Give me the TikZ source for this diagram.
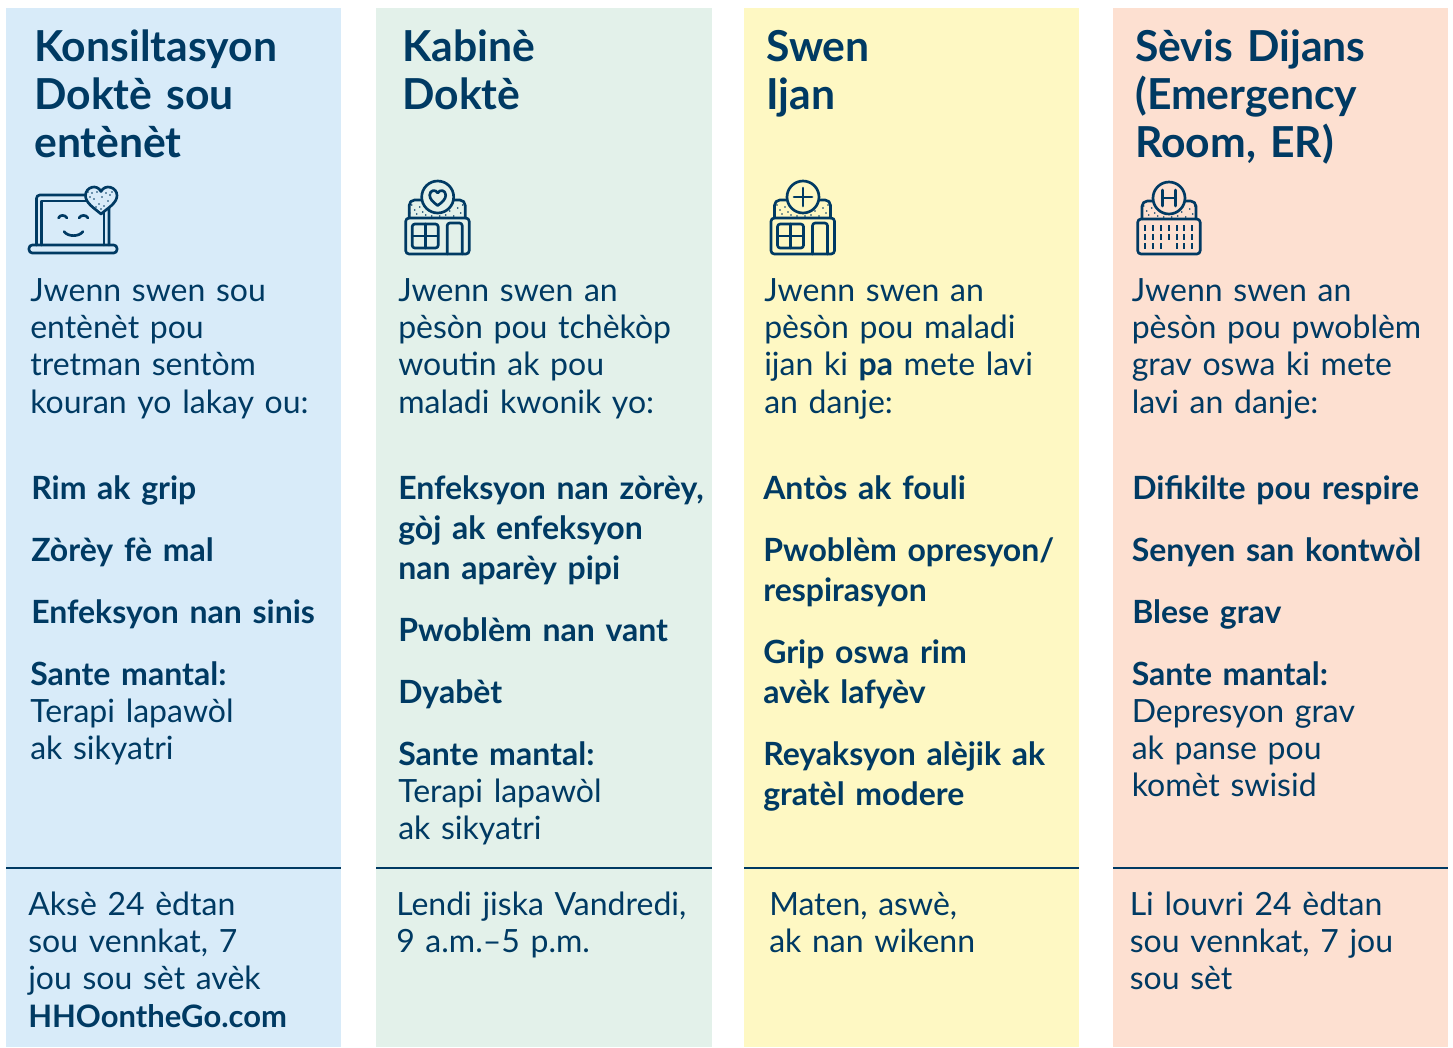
\documentclass[tikz,border=0pt]{standalone}
\usepackage{fontspec}
\setmainfont{Lato}[WordSpace=0.8]
\definecolor{navy}{HTML}{003A63}
\definecolor{cblue}{HTML}{D8EBF9}
\definecolor{cgreen}{HTML}{E3F1EA}
\definecolor{cyellow}{HTML}{FEF8C3}
\definecolor{cpeach}{HTML}{FDE0D1}
\tikzset{
  txt/.style={anchor=base west,inner sep=0pt,text=navy,text width=345pt,align=left},
  head/.style={txt,font=\fontsize{32}{36}\selectfont\bfseries},
  body/.style={txt,font=\fontsize{24}{28.1}\selectfont},
  item/.style={txt,font=\fontsize{24}{30}\selectfont\bfseries},
  itembody/.style={txt,font=\fontsize{24}{28.1}\selectfont},
  icon/.style={draw=navy,line width=2pt,line join=round,line cap=round},
  rule/.style={draw=navy,line width=1.9pt},
}
\newcommand{\dotsroof}{%
  \foreach \a/\b in {6/-13,9/-8,11/-4,14/-11,17/-6,20/-3,26/-2,40/-3,44/-7,48/-2,52/-10,55/-5,57/-13,4/-5,34/-2}
    \fill[navy] (\a,\b) circle (0.9);}
\newcommand{\roofandsign}[1]{%
  \draw[icon,rounded corners=4pt] (3.5,0) -- (3.5,-18) -- (59.5,-18) -- (59.5,0);
  \dotsroof
  \draw[icon,fill=#1] (32,-21) circle (16);}
\newcommand{\shopicon}{%
  \draw[icon,rounded corners=2.5pt] (0,0) rectangle (63.5,36);
  \draw[icon,rounded corners=2pt] (6.5,6) rectangle (32.5,30);
  \draw[icon] (19.5,6) -- (19.5,30) (6.5,18) -- (32.5,18);
  \draw[icon,rounded corners=2pt] (41.5,36) -- (41.5,5) -- (56.5,5) -- (56.5,36);}
\begin{document}
\begin{tikzpicture}[x=0.75pt,y=-0.75pt]
\useasboundingbox (0,0) rectangle (1453,1047);
\fill[white] (0,0) rectangle (1453,1047);
% panels
\fill[cblue] (6,8) rectangle (341,1047);
\fill[cgreen] (376,8) rectangle (712,1047);
\fill[cyellow] (744,8) rectangle (1079,1047);
\fill[cpeach] (1113,8) rectangle (1448,1047);
\draw[rule] (6,868) -- (341,868);
\draw[rule] (376,868) -- (712,868);
\draw[rule] (744,868) -- (1079,868);
\draw[rule] (1113,868) -- (1448,868);

% column 1
\node[head] (h1) at (34,61) {Konsiltasyon\\Doktè sou\\entènèt};
\node[body] (b1) at (30,301) {Jwenn swen sou\\entènèt pou\\tretman sentòm\\kouran yo lakay ou:};
\node[item] (i1a) at (31,499) {Rim ak grip};
\node[item] (i1b) at (31,561) {Zòrèy fè mal};
\node[item] (i1c) at (31,623) {Enfeksyon nan sinis};
\node[item] (i1d) at (30,685) {Sante mantal:};
\node[itembody] (i1e) at (30,722) {Terapi lapawòl\\ak sikyatri};
\node[body] (f1) at (28,915) {Aksè 24 èdtan\\sou vennkat, 7\\jou sou sèt avèk\\{\fontsize{23.2}{28.1}\selectfont\bfseries HHOontheGo.com}};

% column 2
\node[head] (h2) at (402,61) {Kabinè\\Doktè};
\node[body] (b2) at (398,301) {Jwenn swen an\\pèsòn pou tchèkòp\\woutin ak pou\\maladi kwonik yo:};
\node[item] (i2a) at (398,499) {Enfeksyon nan zòrèy,\\gòj ak enfeksyon\\nan aparèy pipi};
\node[item] (i2b) at (398,641) {Pwoblèm nan vant};
\node[item] (i2c) at (398,703) {Dyabèt};
\node[item] (i2d) at (398,765) {Sante mantal:};
\node[itembody] (i2e) at (398,802) {Terapi lapawòl\\ak sikyatri};
\node[body] (f2) at (396,915) {Lendi jiska Vandredi,\\9 a.m.–5 p.m.};

% column 3
\node[head] (h3) at (766,61) {Swen\\Ijan};
\node[body] (b3) at (764,301) {Jwenn swen an\\pèsòn pou maladi\\ijan ki \textbf{pa} mete lavi\\an danje:};
\node[item] (i3a) at (763,499) {Antòs ak fouli};
\node[item] (i3b) at (763,561) {Pwoblèm opresyon/\\respirasyon};
\node[item] (i3c) at (763,663) {Grip oswa rim\\avèk lafyèv};
\node[item] (i3d) at (763,765) {Reyaksyon alèjik ak\\gratèl modere};
\node[body] (f3) at (769,915) {Maten, aswè,\\ak nan wikenn};

% column 4
\node[head] (h4) at (1135,61) {Sèvis Dijans\\(Emergency\\Room, ER)};
\node[body] (b4) at (1131.5,301) {Jwenn swen an\\pèsòn pou pwoblèm\\grav oswa ki mete\\lavi an danje:};
\node[item] (i4a) at (1132,499) {Difikilte pou respire};
\node[item] (i4b) at (1131.5,561) {Senyen san kontwòl};
\node[item] (i4c) at (1132,623) {Blese grav};
\node[item] (i4d) at (1131.5,685) {Sante mantal:};
\node[itembody] (i4e) at (1131.5,722) {Depresyon grav\\ak panse pou\\komèt swisid};
\node[body] (f4) at (1129.5,915) {Li louvri 24 èdtan\\sou vennkat, 7 jou\\sou sèt};

% laptop icon
\draw[icon,rounded corners=2.5pt] (36.5,245) -- (36.5,195) -- (109,195) -- (109,245);
\draw[icon] (41.5,245) -- (41.5,201) -- (104,201) -- (104,245);
\draw[icon,rounded corners=2.5pt] (29,245) rectangle (117,253);
\draw[icon] (58.5,218) .. controls (60,214.5) and (65,214.5) .. (67,218);
\draw[icon] (79,218) .. controls (81,214.5) and (86,214.5) .. (88,218);
\draw[icon] (64,231.5) .. controls (68,237) and (79,237) .. (83,231.5);
\draw[icon,fill=cblue] (101,214) .. controls (94,208) and (85.5,203) .. (85.5,195.5)
  .. controls (85.5,187) and (97,183.5) .. (101,191.5)
  .. controls (105,183.5) and (117,187) .. (117,195.5)
  .. controls (117,203) and (108,208) .. (101,214) -- cycle;
\foreach \a/\b in {92/193,94/199,97/192,99/204,102/197,106/193,110/195,108/201,104/206,90/197,96/207,112/192,101/209,88/192}
  \fill[navy] (\a,\b) circle (0.8);

% clinic icon
\begin{scope}[shift={(405.7,218)}]
  \roofandsign{cgreen}
  \shopicon
  \draw[icon,fill=none] (32,-12.5) .. controls (27,-16) and (24,-19) .. (24,-23)
    .. controls (24,-28) and (30,-29) .. (32,-25)
    .. controls (34,-29) and (40,-28) .. (40,-23)
    .. controls (40,-19) and (37,-16) .. (32,-12.5) -- cycle;
\end{scope}
% urgent care icon
\begin{scope}[shift={(771,218)}]
  \roofandsign{cyellow}
  \shopicon
  \draw[icon] (32,-30) -- (32,-12) (23,-21) -- (41,-21);
\end{scope}
% hospital icon
\begin{scope}[shift={(1137.7,219)}]
  \draw[icon,rounded corners=4pt] (4.3,0) -- (4.3,-18) -- (58.3,-18) -- (58.3,0);
  \dotsroof
  \draw[icon,fill=cpeach] (31.3,-21) circle (16);
  \draw[icon,rounded corners=2.5pt] (0,0) rectangle (62.5,35);
  \draw[icon] (24.5,-29) -- (24.5,-13) (38,-29) -- (38,-13) (24.5,-21) -- (38,-21);
  \foreach \a in {7.5,15.5,23.5,31,39,46.6,54.6}{
    \draw[icon,line width=1.7pt,line cap=butt] (\a,6) -- (\a,11.5);
    \draw[icon,line width=1.7pt,line cap=butt] (\a,15) -- (\a,20.5);}
  \foreach \a in {7.5,15.5,23.5,39,46.6,54.6}
    \draw[icon,line width=1.7pt,line cap=butt] (\a,24) -- (\a,29.5);
\end{scope}
\end{tikzpicture}
\end{document}
